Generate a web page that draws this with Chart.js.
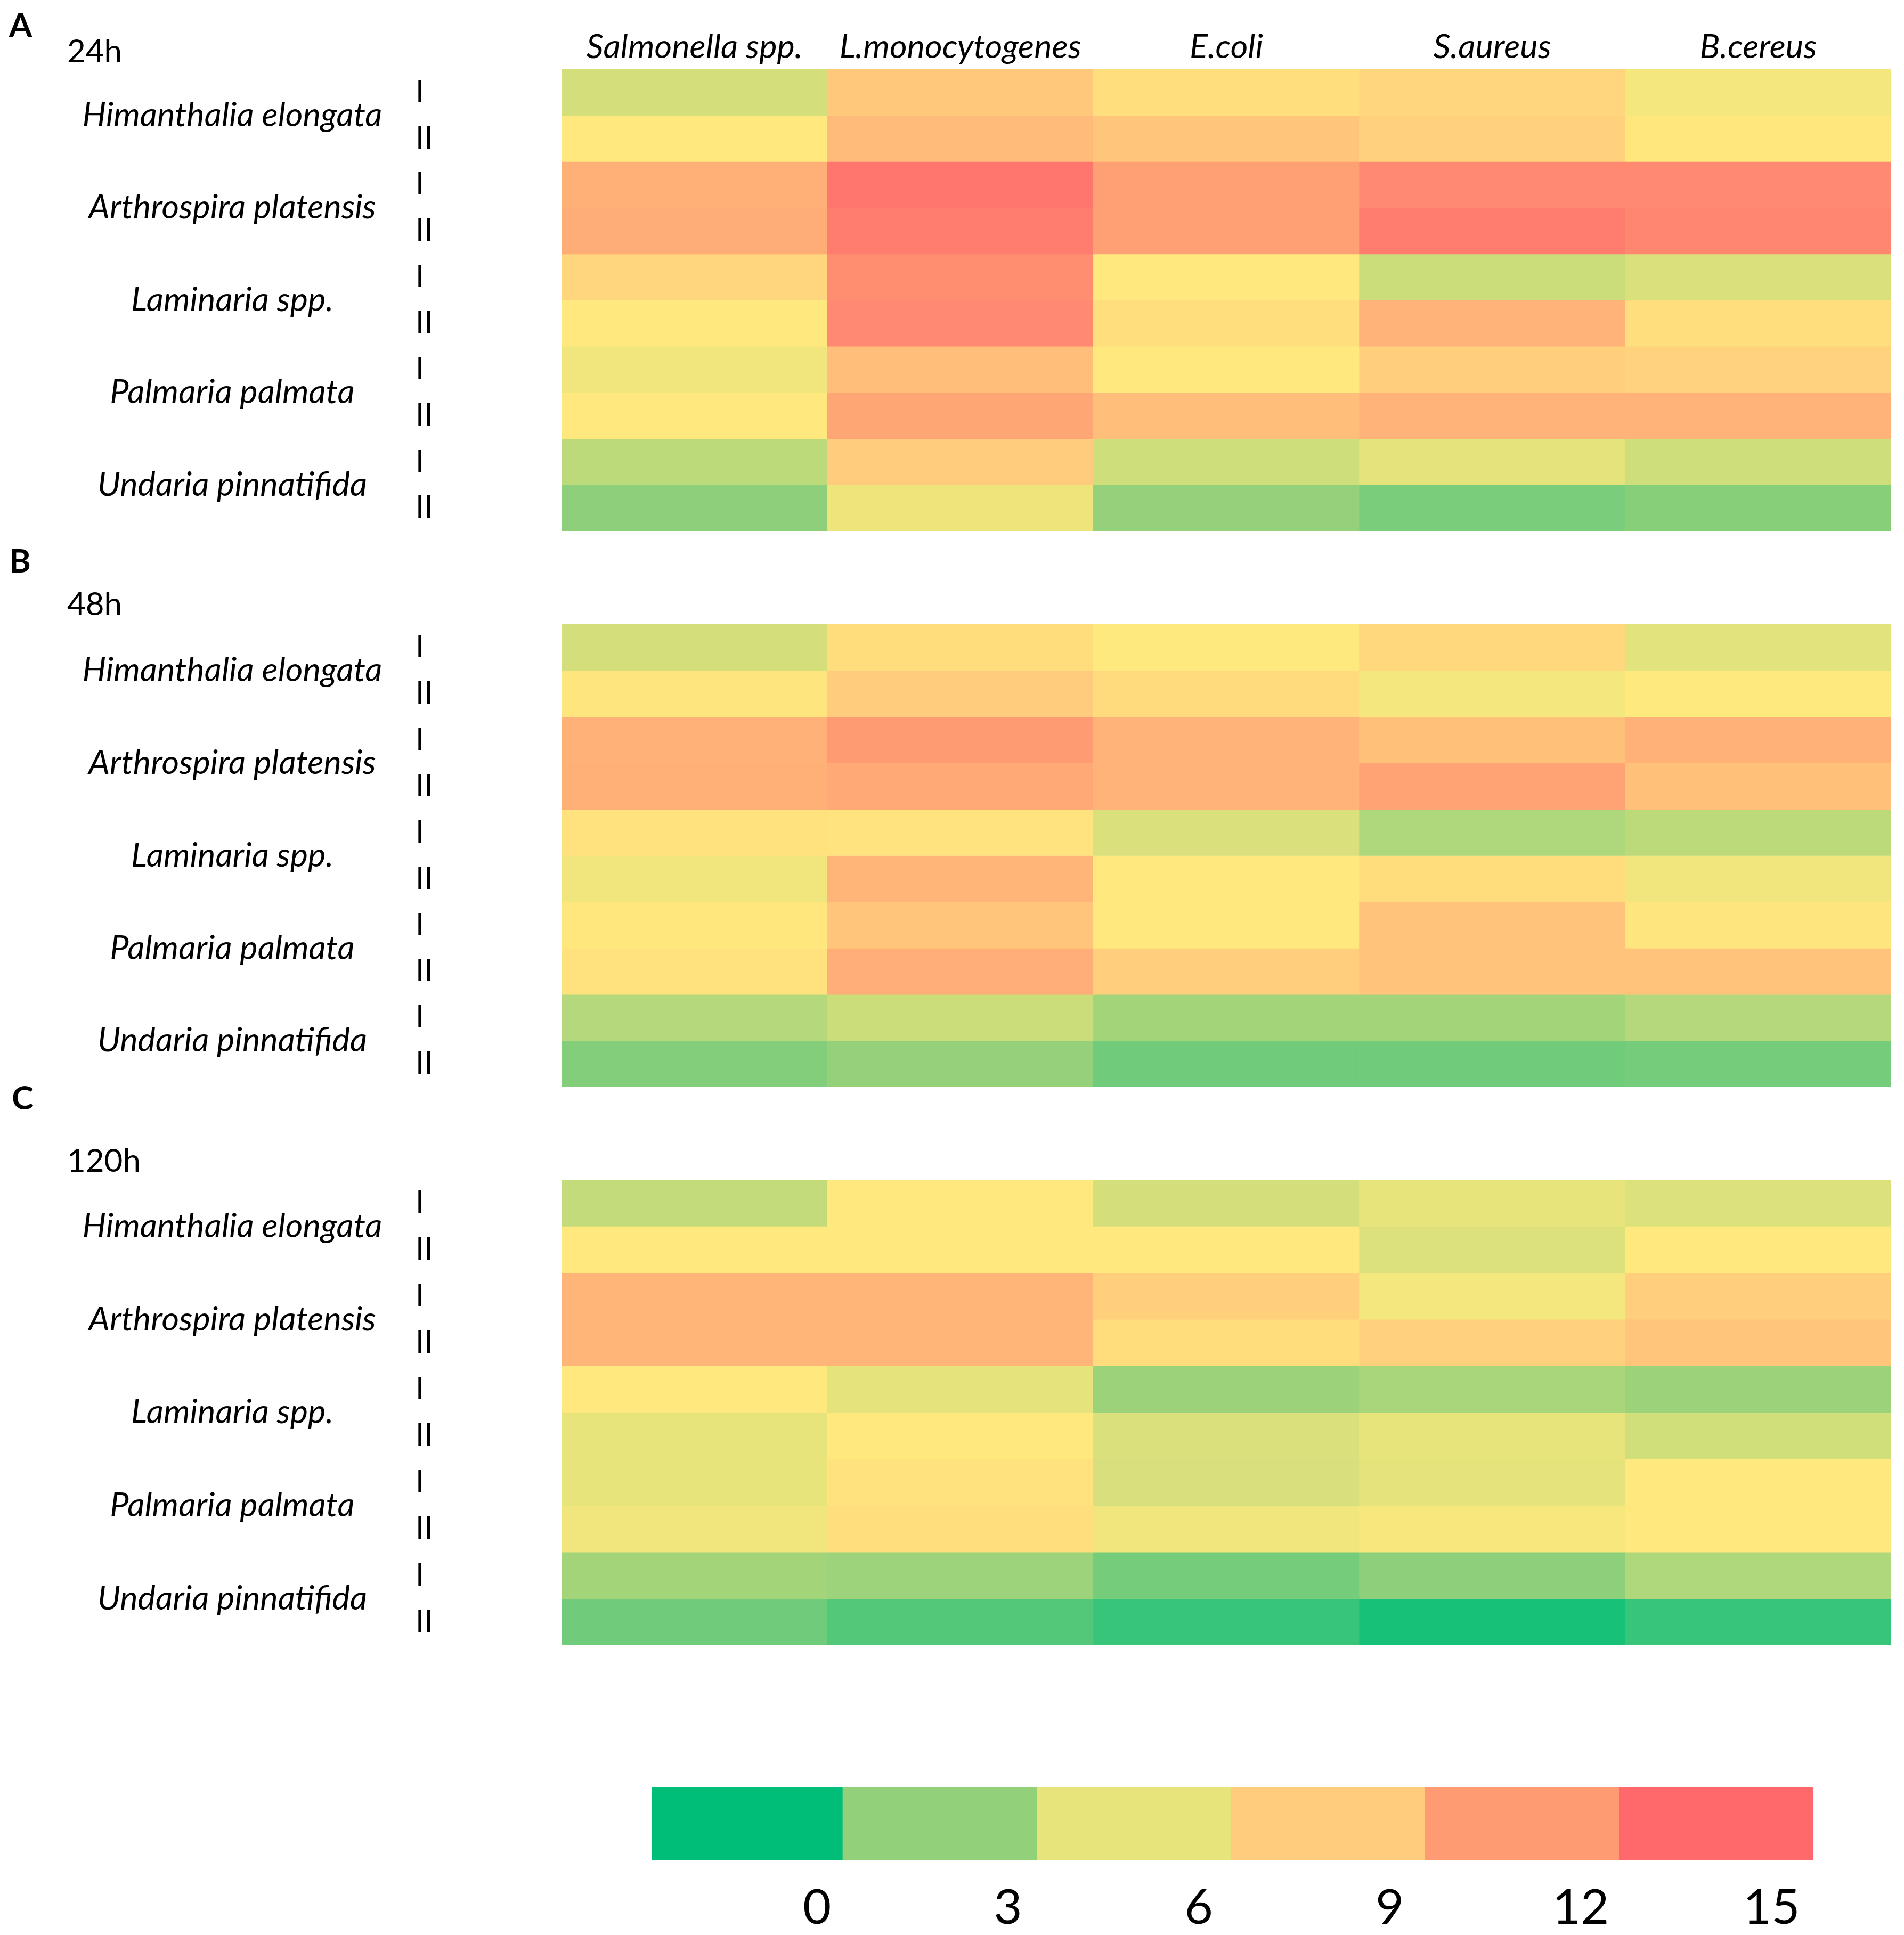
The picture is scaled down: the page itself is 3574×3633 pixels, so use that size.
<!DOCTYPE html>
<html>
<head>
<meta charset="utf-8">
<title>Heatmap 24h / 48h / 120h</title>
<script src="https://cdn.jsdelivr.net/npm/chart.js@4.4.0/dist/chart.umd.min.js"></script>
<style>
  html, body { margin: 0; padding: 0; background: #fff; }
  body { width: 3574px; height: 3633px; position: relative; overflow: hidden; font-family: Lato, sans-serif; }
  canvas { position: absolute; left: 0; }
  .lbl { position: absolute; line-height: 1; color: #000; white-space: nowrap; }
  .panel { font-size: 62px; font-weight: 700; }
  .time { font-size: 60px; }
</style>
</head>
<body>
<div class="lbl panel" style="left:17px;top:14px">A</div>
<div class="lbl time" style="left:126px;top:64px">24h</div>
<div class="lbl panel" style="left:17px;top:1020px">B</div>
<div class="lbl time" style="left:126px;top:1102px">48h</div>
<div class="lbl panel" style="left:22px;top:2028px">C</div>
<div class="lbl time" style="left:126px;top:2147px">120h</div>

<canvas id="panelA" width="3574" height="997" style="top:0px"></canvas>
<canvas id="panelB" width="3574" height="869" style="top:1172px"></canvas>
<canvas id="panelC" width="3574" height="874" style="top:2215px"></canvas>
<canvas id="scaleBar" width="3574" height="333" style="top:3300px"></canvas>

<script>
// columns and rows
const bacteria = ['Salmonella spp.', 'L.monocytogenes', 'E.coli', 'S.aureus', 'B.cereus'];
const species = ['Himanthalia elongata', 'Arthrospira platensis', 'Laminaria spp.', 'Palmaria palmata', 'Undaria pinnatifida'];
const rowLabels = ['I', 'II', 'I', 'II', 'I', 'II', 'I', 'II', 'I', 'II'];

// one row per species replicate (I, II), one column per bacterium
const values24h = [
  [5.3, 9.2, 8.0, 8.5, 6.8],
  [7.5, 10.0, 9.3, 8.7, 7.6],
  [10.7, 14.2, 11.7, 13.0, 13.0],
  [10.9, 13.8, 11.7, 13.8, 13.2],
  [8.5, 12.8, 7.5, 5.0, 5.5],
  [7.5, 13.0, 8.0, 10.5, 8.0],
  [6.5, 9.8, 7.5, 8.8, 8.6],
  [7.5, 11.3, 9.8, 10.5, 10.5],
  [4.5, 9.0, 5.1, 5.9, 5.1],
  [2.9, 6.3, 3.1, 2.5, 2.8]
];
const values48h = [
  [5.3, 8.1, 7.4, 8.4, 5.8],
  [7.7, 9.0, 8.2, 6.8, 7.4],
  [10.6, 12.0, 10.5, 9.7, 10.6],
  [10.7, 11.1, 10.5, 11.5, 9.7],
  [7.9, 7.8, 5.5, 4.0, 4.5],
  [6.5, 10.4, 7.5, 8.1, 6.5],
  [7.6, 9.3, 7.5, 9.5, 7.7],
  [7.9, 10.8, 8.8, 9.5, 9.5],
  [4.2, 5.0, 3.6, 3.6, 4.2],
  [2.7, 3.1, 2.3, 2.3, 2.4]
];
const values120h = [
  [4.7, 7.5, 5.3, 6.0, 5.6],
  [7.5, 7.5, 7.5, 5.6, 7.5],
  [10.4, 10.4, 8.8, 6.8, 8.8],
  [10.4, 10.4, 8.1, 8.7, 9.3],
  [7.5, 5.9, 3.3, 3.8, 3.3],
  [6.0, 7.5, 5.5, 6.0, 5.2],
  [6.0, 7.9, 5.4, 5.9, 7.5],
  [6.5, 8.0, 6.5, 7.0, 7.5],
  [3.6, 3.4, 2.4, 2.9, 4.0],
  [2.3, 1.7, 1.1, 0.5, 1.1]
];

// colour key
const legendTicks = [0, 3, 6, 9, 12, 15];
const legendEdges = [-2.6, 0.4, 3.45, 6.5, 9.55, 12.6, 15.65];
const legendColors = ['#00BE78', '#92D07A', '#E8E47C', '#FFCB7C', '#FF9B73', '#FF696C'];

// continuous green-yellow-red scale used for the cells
const stopValues = [0, 3, 6, 7.5, 9, 12, 15];
const stopColors = [[0, 190, 120], [146, 208, 122], [232, 228, 124], [255, 233, 126],
                    [255, 203, 124], [255, 155, 115], [255, 105, 108]];

function valueColor(v) {
  let i = 0;
  while (i < stopValues.length - 2 && v > stopValues[i + 1]) i++;
  const t = Math.min(1, Math.max(0, (v - stopValues[i]) / (stopValues[i + 1] - stopValues[i])));
  const a = stopColors[i], b = stopColors[i + 1];
  const c = a.map((x, k) => Math.round(x + (b[k] - x) * t));
  return `rgb(${c[0]},${c[1]},${c[2]})`;
}

const FONT = 'Lato';
const hidden = { display: false, drawTicks: false };

// label axes must not push the plot area in
function noPad(s) {
  s.paddingTop = 0;
  s.paddingBottom = 0;
}

function heatmap(id, values, showHeader) {
  const datasets = values.map((row, i) => ({
    label: species[Math.floor(i / 2)] + ' ' + rowLabels[i],
    data: bacteria.map(() => 1),
    backgroundColor: row.map(valueColor),
    borderWidth: 0,
    barPercentage: 1,
    categoryPercentage: 1
  }));

  const x = {
    stacked: true,
    position: 'top',
    display: showHeader,
    grid: hidden,
    border: { display: false },
    ticks: { font: { family: FONT, style: 'italic', size: 63 }, color: '#000', padding: 4, maxRotation: 0, autoSkip: false }
  };
  if (showHeader) x.afterFit = s => { s.height = 130; };

  return new Chart(document.getElementById(id), {
    type: 'bar',
    data: { labels: bacteria, datasets },
    options: {
      responsive: false,
      animation: false,
      layout: { autoPadding: false, padding: { left: 0, right: 24, top: 0, bottom: 0 } },
      plugins: { legend: { display: false }, tooltip: { enabled: false } },
      scales: {
        x,
        y: { stacked: true, min: 0, max: 10, reverse: true, display: false },
        rows: {
          type: 'category',
          labels: rowLabels,
          position: 'left',
          offset: true,
          weight: 0,
          grid: hidden,
          border: { display: false },
          ticks: { crossAlign: 'far', font: { family: FONT, size: 58 }, color: '#000', padding: 0, autoSkip: false },
          afterFit: s => { s.width = 274; noPad(s); }
        },
        names: {
          type: 'category',
          labels: species,
          position: 'left',
          offset: true,
          weight: 1,
          grid: hidden,
          border: { display: false },
          ticks: { crossAlign: 'center', font: { family: FONT, style: 'italic', size: 63 }, color: '#000', padding: 0, autoSkip: false },
          afterFit: s => {
            s.width = 780;
            const widest = s._getLabelSizes().widest.width;
            s.options.ticks.padding = 780 - 436 - widest / 2;
            noPad(s);
          }
        }
      }
    }
  });
}

heatmap('panelA', values24h, true);
heatmap('panelB', values48h, false);
heatmap('panelC', values120h, false);

new Chart(document.getElementById('scaleBar'), {
  type: 'bar',
  data: {
    labels: ['key'],
    datasets: legendColors.map((c, i) => ({
      data: [[legendEdges[i], legendEdges[i + 1]]],
      backgroundColor: c,
      borderWidth: 0,
      barPercentage: 1,
      categoryPercentage: 1,
      grouped: false
    }))
  },
  options: {
    indexAxis: 'y',
    responsive: false,
    animation: false,
    layout: { autoPadding: false, padding: { left: 1223, right: 171, top: 56, bottom: 0 } },
    plugins: { legend: { display: false }, tooltip: { enabled: false } },
    scales: {
      x: {
        type: 'linear',
        min: legendEdges[0],
        max: legendEdges[legendEdges.length - 1],
        grid: hidden,
        border: { display: false },
        afterBuildTicks: s => { s.ticks = legendTicks.map(v => ({ value: v })); },
        ticks: { font: { family: FONT, size: 92 }, color: '#000', padding: 34, autoSkip: false },
        afterFit: s => { s.height = 140; }
      },
      y: { display: false }
    }
  }
});
</script>
</body>
</html>
